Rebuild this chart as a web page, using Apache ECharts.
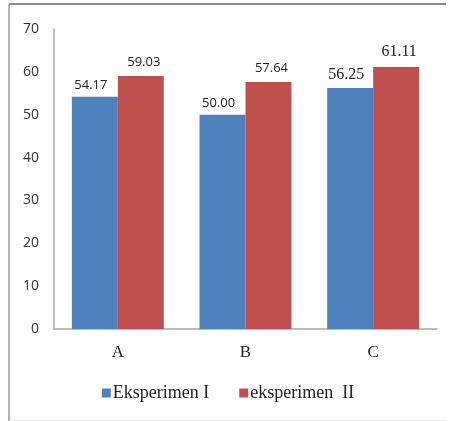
<!DOCTYPE html>
<html>
<head>
<meta charset="utf-8">
<script src="https://cdn.jsdelivr.net/npm/echarts@6/dist/echarts.min.js"></script>
<style>
html,body{margin:0;padding:0;background:#fff;}
#c{width:456px;height:421px;}
</style>
</head>
<body>
<div id="c"></div>
<script>
const categories = ['A', 'B', 'C'];
const seriesNames = ['Eksperimen I', 'eksperimen  II'];
const eksperimenI = [54.17, 50.00, 56.25];
const eksperimenII = [59.03, 57.64, 61.11];
const yTicks = [0, 10, 20, 30, 40, 50, 60, 70];

const sansFont = '"Open Sans", "Liberation Sans", sans-serif';
const serifFont = '"Liberation Serif", "DejaVu Serif", serif';

function items(vals) {
  return vals.map((v, i) => ({
    value: v,
    label: { fontFamily: i === 2 ? serifFont : sansFont, fontSize: i === 2 ? 16 : 13 }
  }));
}

const chart = echarts.init(document.getElementById('c'), null, { renderer: 'canvas' });
chart.setOption({
  animation: false,
  backgroundColor: '#ffffff',
  grid: { left: 54, right: 19, top: 29, bottom: 92, containLabel: false },
  graphic: [
    { type: 'line', shape: { x1: 9, y1: 4, x2: 446, y2: 4 }, style: { stroke: '#8a8a8a', lineWidth: 2 } },
    { type: 'line', shape: { x1: 9, y1: 4, x2: 9, y2: 421 }, style: { stroke: '#9a9a9a', lineWidth: 1.5 } },
    { type: 'line', shape: { x1: 9, y1: 420.5, x2: 446, y2: 420.5 }, style: { stroke: '#e4e4e4', lineWidth: 1 } }
  ],
  legend: {
    data: seriesNames,
    bottom: 14,
    left: 'center',
    itemWidth: 9,
    itemHeight: 9,
    itemGap: 30,
    icon: 'rect',
    textStyle: { fontFamily: serifFont, fontSize: 18, color: '#222', padding: [0, 0, 0, -3] }
  },
  xAxis: {
    type: 'category',
    data: categories,
    axisLine: { lineStyle: { color: '#a6a6a6', width: 1.5 } },
    axisTick: { show: false },
    axisLabel: { fontFamily: serifFont, fontSize: 17, color: '#222', margin: 15 }
  },
  yAxis: {
    type: 'value',
    min: yTicks[0],
    max: yTicks[yTicks.length - 1],
    interval: yTicks[1] - yTicks[0],
    axisLine: { show: true, lineStyle: { color: '#a6a6a6', width: 1.5 } },
    axisTick: { show: false },
    splitLine: { show: false },
    axisLabel: { fontFamily: sansFont, fontSize: 14, color: '#333', margin: 15 }
  },
  series: [
    {
      name: seriesNames[0],
      type: 'bar',
      data: items(eksperimenI),
      barGap: '0%',
      barCategoryGap: '28%',
      itemStyle: { color: '#4F81BD' },
      label: { show: true, position: 'top', distance: 5, color: '#222', formatter: p => p.value.toFixed(2), offset: [-4, 0] }
    },
    {
      name: seriesNames[1],
      type: 'bar',
      data: items(eksperimenII),
      barGap: '0%',
      barCategoryGap: '28%',
      itemStyle: { color: '#C0504D' },
      label: { show: true, position: 'top', distance: 7, color: '#222', formatter: p => p.value.toFixed(2), offset: [3, 0] }
    }
  ]
});
</script>
</body>
</html>
